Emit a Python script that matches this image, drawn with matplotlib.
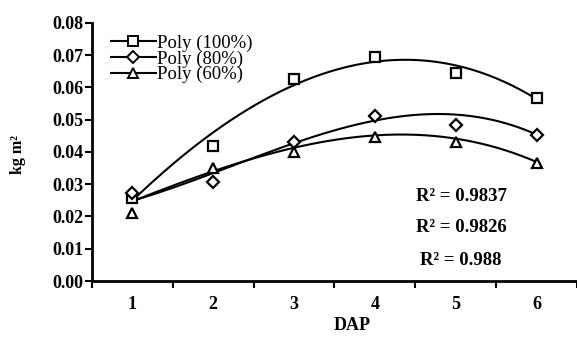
import numpy as np
import matplotlib.pyplot as plt

plt.rcParams['font.family'] = ['Liberation Serif', 'DejaVu Serif']

dap = [1, 2, 3, 4, 5, 6]
dap_labels = ['1', '2', '3', '4', '5', '6']

# measured points
poly_100 = [0.0257, 0.0419, 0.0625, 0.0694, 0.0645, 0.0567]
poly_80 = [0.0273, 0.0307, 0.0431, 0.0511, 0.0483, 0.0452]
poly_60 = [0.0210, 0.0350, 0.0400, 0.0445, 0.0431, 0.0366]

# trendline values at each DAP
trend_100 = [0.0250, 0.0458, 0.0607, 0.0684, 0.0663, 0.0565]
trend_80 = [0.0250, 0.0330, 0.0430, 0.0500, 0.0511, 0.0455]
trend_60 = [0.0250, 0.0330, 0.0425, 0.0447, 0.0439, 0.0370]

r2_labels = ['R² = 0.9837', 'R² = 0.9826', 'R² = 0.988']
series = [(poly_100, trend_100, 's', 'Poly (100%)'),
          (poly_80, trend_80, 'D', 'Poly (80%)'),
          (poly_60, trend_60, '^', 'Poly (60%)')]

fig = plt.figure(figsize=(5.77, 3.37), dpi=100)
ax = fig.add_axes([0.1594, 0.166, 0.8406, 0.7666])

xs = np.linspace(1, 6, 200)
for vals, trend, mk, lab in series:
    coef = np.polyfit(dap, trend, 3)
    ax.plot(xs, np.polyval(coef, xs), color='black', lw=1.5, zorder=2)
    ms = 6 if mk == 'D' else 7.5
    ax.plot(dap, vals, linestyle='none', marker=mk, ms=ms, mfc='white',
            mec='black', mew=1.6, zorder=3)
    # legend proxy
    ax.plot([], [], color='black', lw=1.5, marker=mk, ms=ms, mfc='white',
            mec='black', mew=1.4, label=lab)

ax.set_xlim(0.5, 6.5)
ax.set_ylim(0, 0.08)
ax.set_yticks(np.arange(0, 0.081, 0.01))
ax.set_yticklabels([f'{v:.2f}' for v in np.arange(0, 0.081, 0.01)])
ax.set_xticks(dap)
ax.set_xticklabels(dap_labels)
ax.set_xticks(np.arange(0.5, 6.6, 1), minor=True)
ax.tick_params(axis='x', which='major', length=0, pad=11, labelsize=13)
ax.tick_params(axis='x', which='minor', length=5, width=1.5, direction='out')
ax.tick_params(axis='y', length=5, width=1.5, direction='out', pad=1, labelsize=13)
for t in ax.get_xticklabels() + ax.get_yticklabels():
    t.set_fontweight('bold')

for side in ['top', 'right']:
    ax.spines[side].set_visible(False)
for side in ['left', 'bottom']:
    ax.spines[side].set_linewidth(2)

ax.set_xlabel('DAP', fontsize=13, fontweight='bold')
ax.xaxis.set_label_coords(0.536, -0.14)
ax.set_ylabel('kg m²', fontsize=11.5, fontweight='bold')
ax.yaxis.set_label_coords(-0.135, 0.49)

for txt, yy in zip(r2_labels, [0.326, 0.209, 0.081]):
    ax.text(0.761, yy, txt, transform=ax.transAxes,
            fontsize=13.5, fontweight='bold', ha='center', va='center')

ax.legend(loc='upper left', bbox_to_anchor=(0.012, 1.005), frameon=False,
          fontsize=13.5, handlelength=2.4, handletextpad=0.05,
          labelspacing=-0.08, borderpad=0.2)

fig.savefig('out.png', dpi=100)
